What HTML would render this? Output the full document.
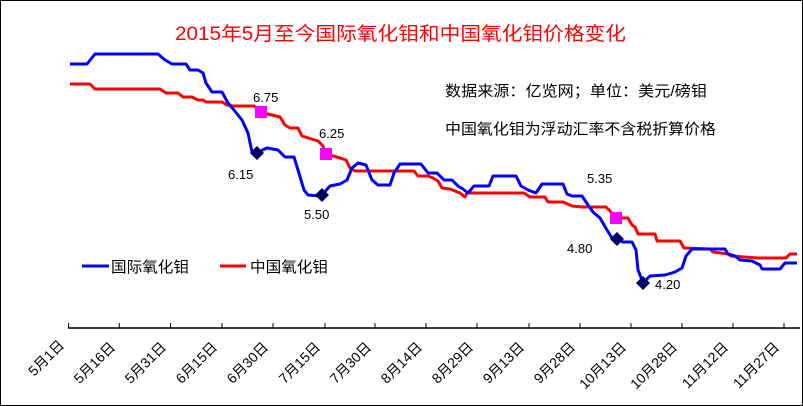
<!DOCTYPE html>
<html><head><meta charset="utf-8"><style>
html,body{margin:0;padding:0;background:#fff;}
svg{display:block;}
text{font-family:"Liberation Sans","Noto Sans CJK SC","WenQuanYi Zen Hei",sans-serif;}
</style></head><body>
<svg width="803" height="406" viewBox="0 0 803 406" xmlns="http://www.w3.org/2000/svg">
<rect x="0.5" y="0.5" width="802" height="405" fill="#fff" stroke="#000"/>
<text x="175" y="40" fill="#ff0000" font-size="19" textLength="451" lengthAdjust="spacingAndGlyphs" font-family="Liberation Serif,Noto Serif CJK SC,serif">2015年5月至今国际氧化钼和中国氧化钼价格变化</text>
<text x="445" y="96" fill="#000" font-size="15" textLength="262" lengthAdjust="spacingAndGlyphs">数据来源：亿览网；单位：美元/磅钼</text>
<text x="445" y="134" fill="#000" font-size="15" textLength="271" lengthAdjust="spacingAndGlyphs">中国氧化钼为浮动汇率不含税折算价格</text>
<line x1="68" y1="328" x2="800" y2="328" stroke="#000" stroke-width="1.5"/>
<g stroke="#000" stroke-width="1">
<line x1="68.6" y1="323" x2="68.6" y2="328"/><line x1="119.3" y1="323" x2="119.3" y2="328"/><line x1="170.5" y1="323" x2="170.5" y2="328"/><line x1="222" y1="323" x2="222" y2="328"/><line x1="273" y1="323" x2="273" y2="328"/><line x1="325" y1="323" x2="325" y2="328"/><line x1="375" y1="323" x2="375" y2="328"/><line x1="426" y1="323" x2="426" y2="328"/><line x1="477" y1="323" x2="477" y2="328"/><line x1="529" y1="323" x2="529" y2="328"/><line x1="580" y1="323" x2="580" y2="328"/><line x1="631" y1="323" x2="631" y2="328"/><line x1="682" y1="323" x2="682" y2="328"/><line x1="733" y1="323" x2="733" y2="328"/><line x1="784" y1="323" x2="784" y2="328"/>
</g>
<g font-size="14" fill="#000" text-anchor="end">
<text transform="translate(65,346) rotate(-45)">5月1日</text>
<text transform="translate(116,348) rotate(-45)">5月16日</text>
<text transform="translate(167,348) rotate(-45)">5月31日</text>
<text transform="translate(218,348) rotate(-45)">6月15日</text>
<text transform="translate(269,348) rotate(-45)">6月30日</text>
<text transform="translate(321,348) rotate(-45)">7月15日</text>
<text transform="translate(372,348) rotate(-45)">7月30日</text>
<text transform="translate(423,348) rotate(-45)">8月14日</text>
<text transform="translate(474,348) rotate(-45)">8月29日</text>
<text transform="translate(525,348) rotate(-45)">9月13日</text>
<text transform="translate(576,348) rotate(-45)">9月28日</text>
<text transform="translate(627,348) rotate(-45)">10月13日</text>
<text transform="translate(678,348) rotate(-45)">10月28日</text>
<text transform="translate(729,348) rotate(-45)">11月12日</text>
<text transform="translate(780,348) rotate(-45)">11月27日</text>
</g>
<polyline fill="none" stroke="#ff0000" stroke-width="3" stroke-linejoin="round" points="70,84 90,84 95,89 160,89 166,93 178,93 183,97 192,97 198,100 203,100 206,102 222,102 227,105 233,106 254,106 261,112 264,113 280,117 285,125 290,128 298,128 302,136 318,141 323,146 326,154 340,158 346,160 350,168 355,171 414,171 418,176 428,176 433,178 438,181 442,188 450,189 460,193 465,197 467,193 472,193 524,193 530,197 545,197 548,202 563,202 572,206 582,207 606,207 610,211 616,218 628,218 632,225 635,227 638,234 655,234 657,241 680,241 684,248 710,249 713,252 728,254 731,256 758,258 786,258 790,254 797,254"/>
<polyline fill="none" stroke="#0000ff" stroke-width="3" stroke-linejoin="round" points="70,64 87,64 95,54 158,54 165,60 172,64 186,64 190,70 198,70 203,73 206,83 212,92 222,92 228,103 234,110 242,120 248,133 252,152 256,153 267,148 278,150 285,157 294,157 298,170 304,190 308,195 320,196 322,195 330,186 340,184 347,180 352,168 358,163 366,165 372,180 378,185 390,185 394,173 400,164 421,164 428,173 437,173 444,180 452,180 458,186 463,189 468,193 474,186 489,186 493,176 516,176 521,186 528,190 536,193 542,184 563,184 567,194 572,196 582,196 588,205 593,212 600,218 607,230 612,238 617,239 623,242 632,242 636,250 638,270 642,280 643,283 650,276 665,275 675,272 682,268 686,256 692,249 725,249 728,254 735,256 740,260 752,261 760,265 762,269 780,269 785,263 797,263"/>
<g fill="#ff00ff">
<rect x="255" y="106" width="12" height="12"/>
<rect x="320" y="148" width="12" height="12"/>
<rect x="610" y="212" width="12" height="12"/>
</g>
<g fill="#000066">
<polygon points="257,146 264,153 257,160 250,153"/>
<polygon points="322,188 329,195 322,202 315,195"/>
<polygon points="617,232 624,239 617,246 610,239"/>
<polygon points="643,276 650,283 643,290 636,283"/>
</g>
<g font-size="13" fill="#000" font-family="Liberation Mono,monospace">
<text x="253" y="102">6.75</text>
<text x="319" y="138">6.25</text>
<text x="228" y="179">6.15</text>
<text x="304" y="219">5.50</text>
<text x="587" y="183">5.35</text>
<text x="567" y="253">4.80</text>
<text x="655" y="289">4.20</text>
</g>
<line x1="82" y1="266" x2="109" y2="266" stroke="#0000ff" stroke-width="3"/>
<text x="111" y="272" font-size="15" textLength="78" lengthAdjust="spacingAndGlyphs">国际氧化钼</text>
<line x1="220" y1="266" x2="246" y2="266" stroke="#ff0000" stroke-width="3"/>
<text x="250" y="272" font-size="15" textLength="78" lengthAdjust="spacingAndGlyphs">中国氧化钼</text>
</svg>
</body></html>
